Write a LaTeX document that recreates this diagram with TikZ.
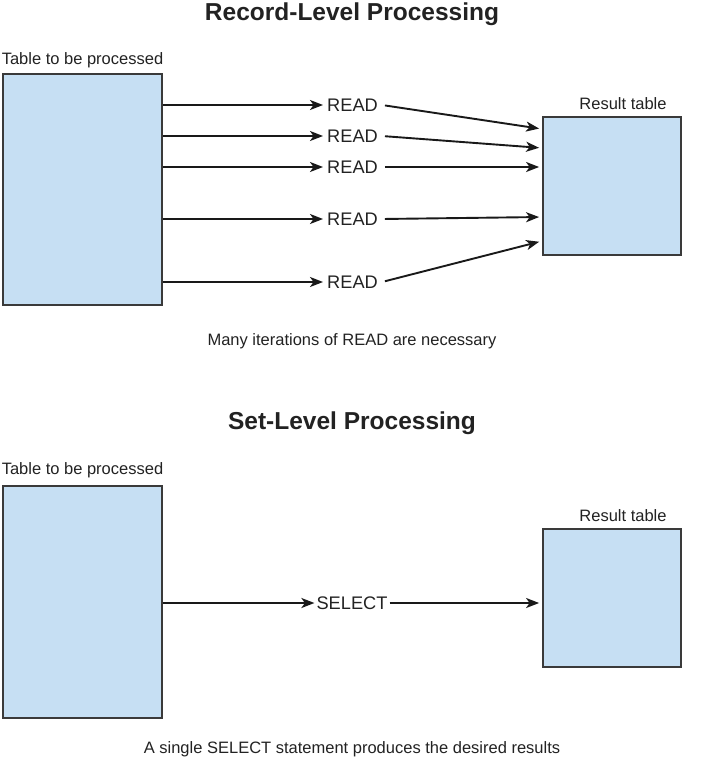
\documentclass[tikz,border=0pt]{standalone}
\usepackage{fontspec}
\setmainfont{Liberation Sans}
\usetikzlibrary{arrows.meta,calc}
\definecolor{boxfill}{HTML}{C6DFF3}
\definecolor{boxline}{HTML}{3A3A3A}
\definecolor{txt}{HTML}{222222}
\begin{document}
\begin{tikzpicture}[x=1pt,y=-1pt,
  tablebox/.style={draw=boxline,fill=boxfill,line width=1.8pt,inner sep=0pt},
  lbl/.style={text=txt,inner sep=0pt,font=\fontsize{16.5}{18}\selectfont},
  ttl/.style={text=txt,inner sep=0pt,font=\fontsize{24.5}{27}\bfseries\selectfont},
  opnode/.style={text=txt,inner ysep=0pt,inner xsep=4pt,font=\fontsize{18.2}{20}\selectfont},
  arr/.style={draw=black!90,line width=1.9pt,-{Stealth[length=13pt,width=10pt,inset=3.5pt]}}]
\useasboundingbox (0,0) rectangle (704,766);
% ---------- Record-level ----------
\node[ttl] (title1) at (352,14) {Record-Level Processing};
\node[lbl] (src1lbl) at (82.5,60) {Table to be processed};
\node[tablebox,minimum width=159pt,minimum height=231pt] (src1) at (82.5,189.5) {};
\node[lbl] (res1lbl) at (623,104) {Result table};
\node[tablebox,minimum width=138pt,minimum height=138pt] (res1) at (612,186) {};
\node[opnode] (r1) at (352.5,105) {READ};
\node[opnode] (r2) at (352.5,136) {READ};
\node[opnode] (r3) at (352.5,167) {READ};
\node[opnode] (r4) at (352.5,219) {READ};
\node[opnode] (r5) at (352.5,282) {READ};
\coordinate (e1) at (res1.west |- 0,129);
\coordinate (e2) at (res1.west |- 0,148);
\coordinate (e3) at (res1.west |- 0,167);
\coordinate (e4) at (res1.west |- 0,217);
\coordinate (e5) at (res1.west |- 0,241);
\foreach \i in {1,...,5}{
  \draw[arr] (src1.east |- r\i) -- (r\i.west);
  \draw[arr,shorten <=3pt,shorten >=3pt] (r\i.east) -- (e\i);
}
\node[lbl] (note1) at (352,341) {Many iterations of READ are necessary};
% ---------- Set-level ----------
\node[ttl] (title2) at (352,423) {Set-Level Processing};
\node[lbl] (src2lbl) at (82.5,470) {Table to be processed};
\node[tablebox,minimum width=159pt,minimum height=232pt] (src2) at (82.5,602) {};
\node[lbl] (res2lbl) at (623,516) {Result table};
\node[tablebox,minimum width=138pt,minimum height=138pt] (res2) at (612,598) {};
\node[opnode,inner xsep=2pt] (sel) at (352,603) {SELECT};
\draw[arr] (src2.east |- sel) -- (sel.west);
\draw[arr,shorten >=3pt] (sel.east) -- (res2.west |- sel);
\node[lbl] (note2) at (352,749) {A single SELECT statement produces the desired results};
\end{tikzpicture}
\end{document}
